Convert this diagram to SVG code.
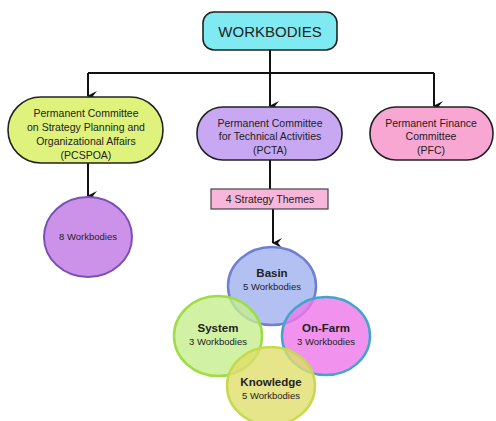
<svg xmlns="http://www.w3.org/2000/svg" width="496" height="421" viewBox="0 0 496 421">
<defs>
<marker id="ah" markerWidth="10" markerHeight="10" refX="5" refY="9" orient="auto" markerUnits="userSpaceOnUse" viewBox="0 0 10 10">
<path d="M0,0 L5,4 L10,0 L5,10 Z" fill="#111"/>
</marker>
<style>
text{font-family:"Liberation Sans",Arial,sans-serif;fill:#222;text-anchor:middle}
.t{font-size:10.5px}
.s{font-size:9.5px}
.b{font-size:11.5px;font-weight:bold}
.c{stroke:#111;stroke-width:2;fill:none}
.p{stroke:#222;stroke-width:1.6}
</style>
</defs>
<rect width="496" height="421" fill="#fff"/>
<g id="connectors">
<path class="c" d="M270,50 V73 M88,73 H434"/>
<path class="c" d="M88,73 V96" marker-end="url(#ah)"/>
<path class="c" d="M270,73 V106" marker-end="url(#ah)"/>
<path class="c" d="M434,73 V106" marker-end="url(#ah)"/>
<path class="c" d="M88,163 V196" marker-end="url(#ah)"/>
<path class="c" d="M270,160 V189"/>
<path class="c" d="M273,209 V243" marker-end="url(#ah)"/>
</g>
<g id="workbodies">
<rect class="p" x="203" y="12" width="134" height="38" rx="11" fill="#80eaf2"/>
<text x="270" y="37" style="font-size:15px">WORKBODIES</text>
</g>
<g id="pcspoa">
<rect class="p" x="8" y="97" width="155" height="66" rx="33" fill="#def27c"/>
<text class="t" x="86" y="117">Permanent Committee</text>
<text class="t" x="86" y="131">on Strategy Planning and</text>
<text class="t" x="86" y="145">Organizational Affairs</text>
<text class="t" x="86" y="159">(PCSPOA)</text>
</g>
<g id="pcta">
<rect class="p" x="197" y="107" width="145" height="53" rx="26" fill="#c8a8f2"/>
<text class="t" x="270" y="127">Permanent Committee</text>
<text class="t" x="270" y="140">for Technical Activities</text>
<text class="t" x="270" y="154">(PCTA)</text>
</g>
<g id="pfc">
<rect class="p" x="370" y="107" width="123" height="53" rx="26" fill="#f8a6d2"/>
<text class="t" x="431" y="127">Permanent Finance</text>
<text class="t" x="431" y="140">Committee</text>
<text class="t" x="431" y="154">(PFC)</text>
</g>
<g id="eight">
<ellipse cx="88" cy="237" rx="44" ry="40" fill="#cc92ea" stroke="#7a52b4" stroke-width="2"/>
<text class="s" x="88" y="240">8 Workbodies</text>
</g>
<g id="themes">
<rect x="211" y="189" width="117" height="20" fill="#f8b6da" stroke="#444" stroke-width="1.2"/>
<text class="t" x="270" y="203">4 Strategy Themes</text>
</g>
<g id="basin">
<ellipse cx="272" cy="286" rx="44" ry="39" fill="#a4b6ee" fill-opacity="0.85" stroke="#6f80d4" stroke-width="2.5"/>
<text class="b" x="272" y="277">Basin</text>
<text class="s" x="272" y="290">5 Workbodies</text>
</g>
<g id="system">
<ellipse cx="218" cy="336" rx="44" ry="40" fill="#c6ee8e" fill-opacity="0.8" stroke="#a0dc46" stroke-width="2.5"/>
<text class="b" x="218" y="332">System</text>
<text class="s" x="218" y="345">3 Workbodies</text>
</g>
<g id="onfarm">
<ellipse cx="326" cy="336" rx="44" ry="39" fill="#ee78ea" fill-opacity="0.8" stroke="#42a6cc" stroke-width="2.5"/>
<text class="b" x="326" y="332">On-Farm</text>
<text class="s" x="326" y="345">3 Workbodies</text>
</g>
<g id="knowledge">
<ellipse cx="271" cy="386" rx="44" ry="39" fill="#e0df6c" fill-opacity="0.8" stroke="#c6da50" stroke-width="2.5"/>
<text class="b" x="271" y="386">Knowledge</text>
<text class="s" x="271" y="399">5 Workbodies</text>
</g>
</svg>
